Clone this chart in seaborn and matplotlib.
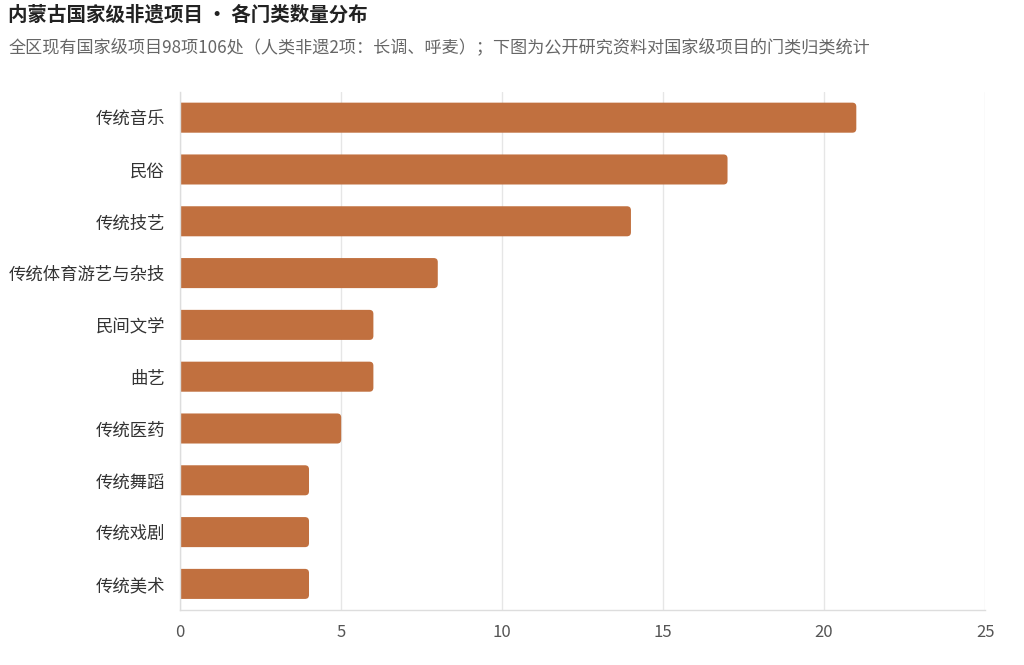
import matplotlib
matplotlib.use("Agg")
import pandas as pd
import seaborn as sns
import matplotlib.pyplot as plt
from matplotlib.patches import FancyBboxPatch

categories = ["传统音乐", "民俗", "传统技艺", "传统体育游艺与杂技", "民间文学",
              "曲艺", "传统医药", "传统舞蹈", "传统戏剧", "传统美术"]
counts = [21, 17, 14, 8, 6, 6, 5, 4, 4, 4]
x_ticks = [0, 5, 10, 15, 20, 25]

title = "内蒙古国家级非遗项目 · 各门类数量分布"
subtitle = "全区现有国家级项目98项106处（人类非遗2项：长调、呼麦）；下图为公开研究资料对国家级项目的门类归类统计"

bar_color = "#C1703F"

sns.set_theme(style="white")
plt.rcParams["font.family"] = ["Noto Sans CJK SC", "DejaVu Sans"]

df = pd.DataFrame({"category": categories, "count": counts})

fig = plt.figure(figsize=(10.24, 6.65), dpi=100)
ax = fig.add_axes([0.176, 0.083, 0.786, 0.779])

sns.barplot(data=df, x="count", y="category", color=bar_color, width=0.58,
            saturation=1, ax=ax)

ax.set_xlim(0, 25)
ax.set_xticks(x_ticks)

# swap plain bars for bars with rounded right ends
px_per_x = ax.get_window_extent().width / 25
px_per_y = ax.get_window_extent().height / len(categories)
r = 4 / px_per_x
for p in list(ax.patches):
    x0, y0 = p.get_x(), p.get_y()
    w, h = p.get_width(), p.get_height()
    p.remove()
    fb = FancyBboxPatch((x0 - 0.3, y0), w + 0.3, h,
                        boxstyle=f"round,pad=0,rounding_size={r}",
                        mutation_aspect=px_per_x / px_per_y,
                        facecolor=bar_color, edgecolor="none", zorder=2)
    ax.add_patch(fb)

ax.grid(axis="x", color="#E6E6E6", linewidth=1, zorder=0)
ax.set_axisbelow(True)
for s in ["top", "right"]:
    ax.spines[s].set_visible(False)
for s in ["left", "bottom"]:
    ax.spines[s].set_color("#DDDDDD")
    ax.spines[s].set_linewidth(1)

ax.set_xlabel("")
ax.set_ylabel("")
ax.tick_params(axis="x", length=0, pad=10, labelsize=12, labelcolor="#555555")
ax.tick_params(axis="y", length=0, pad=11, labelsize=12.5, labelcolor="#333333")

fig.text(0.008, 0.977, title, fontsize=14, fontweight="bold", color="#222222",
         va="center", ha="left")
fig.text(0.008, 0.929, subtitle, fontsize=12.3, color="#666666",
         va="center", ha="left")

fig.savefig("out.png", dpi=100, facecolor="white")
